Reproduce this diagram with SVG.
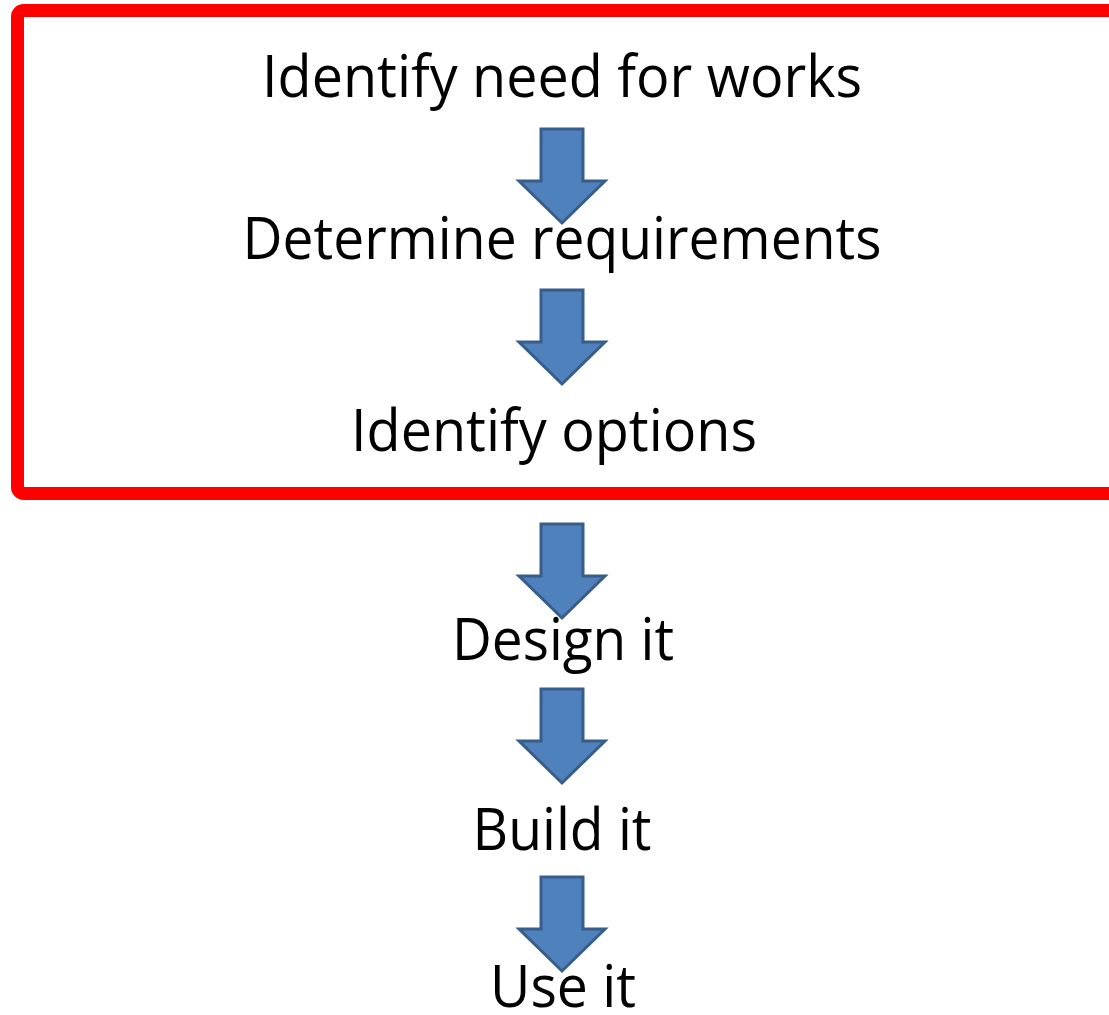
<svg xmlns="http://www.w3.org/2000/svg" width="1109" height="1015" viewBox="0 0 1109 1015">
  <defs>
    <style>
      .label { font-family: "Open Sans", "Liberation Sans", sans-serif; font-size: 58px; fill: #000; text-anchor: middle; }
      .arrow { fill: #4F81BD; stroke: #385D8A; stroke-width: 3; stroke-linejoin: miter; }
      .frame { fill: none; stroke: #FF0000; stroke-width: 13; }
    </style>
    <!-- down arrow, origin at shaft top centre, tip at y=94 -->
    <path id="down" d="M -21 0 H 21 V 52 H 43 L 0 94 L -43 52 H -21 Z"/>
  </defs>
  <rect width="1109" height="1015" fill="#FFFFFF"/>

  <!-- red frame around the early stages -->
  <rect class="frame" x="17.5" y="10.5" width="1120" height="483" rx="6"/>

  <g id="connectors">
    <use href="#down" class="arrow" transform="translate(562,129)"/>
    <use href="#down" class="arrow" transform="translate(562,290)"/>
    <use href="#down" class="arrow" transform="translate(562,524)"/>
    <use href="#down" class="arrow" transform="translate(562,689)"/>
    <use href="#down" class="arrow" transform="translate(562,877)"/>
  </g>

  <g id="n1"><text class="label" x="562" y="97" textLength="600" lengthAdjust="spacingAndGlyphs">Identify need for works</text></g>
  <g id="n2"><text class="label" x="562" y="259" textLength="639" lengthAdjust="spacingAndGlyphs">Determine requirements</text></g>
  <g id="n3"><text class="label" x="554" y="451" textLength="406" lengthAdjust="spacingAndGlyphs">Identify options</text></g>
  <g id="n4"><text class="label" x="563" y="660" textLength="222" lengthAdjust="spacingAndGlyphs">Design it</text></g>
  <g id="n5"><text class="label" x="562" y="850" textLength="179" lengthAdjust="spacingAndGlyphs">Build it</text></g>
  <g id="n6"><text class="label" x="563" y="1007" textLength="146" lengthAdjust="spacingAndGlyphs">Use it</text></g>
</svg>
